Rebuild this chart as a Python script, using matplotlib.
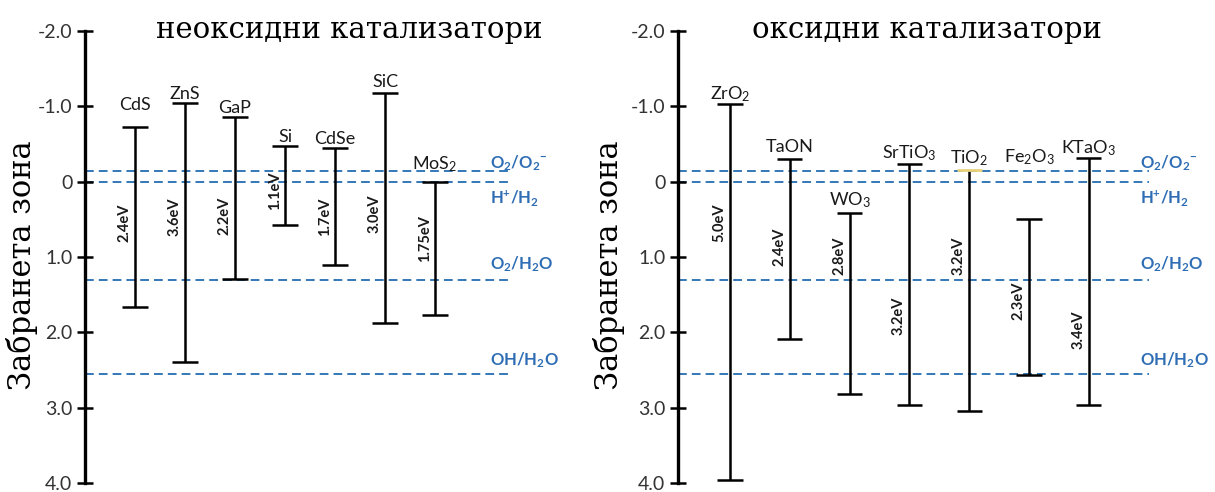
import matplotlib
matplotlib.use("Agg")
import matplotlib.pyplot as plt

plt.rcParams['axes.unicode_minus'] = False
plt.rcParams['mathtext.default'] = 'regular'

# ---------------- data ----------------
left_title = "неоксидни катализатори"
right_title = "оксидни катализатори"
ylabel = "Забранета зона"

left_names = ["CdS", "ZnS", "GaP", "Si", "CdSe", "SiC", "MoS$_2$"]
left_cb = [-0.72, -1.04, -0.86, -0.48, -0.45, -1.18, 0.01]
left_vb = [1.67, 2.39, 1.29, 0.57, 1.11, 1.87, 1.77]
left_gaps = ["2.4eV", "3.6eV", "2.2eV", "1.1eV", "1.7eV", "3.0eV", "1.75eV"]

right_names = ["ZrO$_2$", "TaON", "WO$_3$", "SrTiO$_3$", "TiO$_2$", "Fe$_2$O$_3$", "KTaO$_3$"]
right_cb = [-1.03, -0.30, 0.41, -0.24, -0.15, 0.50, -0.31]
right_vb = [3.96, 2.09, 2.82, 2.97, 3.05, 2.56, 2.97]
right_gaps = ["5.0eV", "2.4eV", "2.8eV", "3.2eV", "3.2eV", "2.3eV", "3.4eV"]

redox_names = ["O$_2$/O$_2{}^{-}$", "H$^{+}$/H$_2$", "O$_2$/H$_2$O", "OH/H$_2$O"]
redox_values = [-0.14, 0.0, 1.30, 2.55]

yticks = [-2.0, -1.0, 0.0, 1.0, 2.0, 3.0, 4.0]
ytick_labels = ["-2.0", "-1.0", "0", "1.0", "2.0", "3.0", "4.0"]

# ---------------- placement / style ----------------
left_name_y = [-0.95, -1.10, -0.91, -0.53, -0.50, -1.26, -0.17]
right_name_y = [-1.10, -0.40, 0.32, -0.31, -0.24, -0.26, -0.38]
left_gap_y = [0.54, 0.46, 0.45, 0.12, 0.46, 0.43, 0.75]
right_gap_y = [0.55, 0.86, 0.99, 1.78, 0.99, 1.58, 1.97]
redox_label_y = [-0.25, 0.22, 1.10, 2.37]
right_top_cap_colors = ["black", "black", "black", "black", "#e8d27a", "black", "black"]

SANS = "Lato"
SERIF = "DejaVu Serif"
BLUE = "#2e6db4"
DASH = "#3477b8"
INK = "#1a1a1a"

W, H = 1215, 492
TOP_PX, BOT_PX = 31, 483   # pixel rows of -2.0 and 4.0
fig = plt.figure(figsize=(W / 100, H / 100), dpi=100)

def px_axes(x0, x1):
    return fig.add_axes([x0 / W, (H - BOT_PX) / H, (x1 - x0) / W, (BOT_PX - TOP_PX) / H])

def panel(ax, names, cb, vb, gaps, name_y, gap_y, xlim, cap_w, dash_end,
          label_x, title, title_x, ylabel_x, top_cap_colors=None):
    n = len(names)
    xs = list(range(n))
    ax.set_xlim(*xlim)
    ax.set_ylim(4.0, -2.0)
    for s in ["top", "right", "bottom"]:
        ax.spines[s].set_visible(False)
    ax.spines["left"].set_linewidth(2.4)
    ax.spines["left"].set_color("black")
    ax.spines["left"].set_bounds(-2.0, 4.0)
    ax.set_xticks([])
    ax.set_yticks(yticks)
    ax.set_yticklabels(ytick_labels, fontfamily=SANS, fontsize=14, color="#333333")
    ax.tick_params(axis="y", direction="inout", length=12, width=1.8, pad=3, color="black")
    ax.patch.set_alpha(0)

    # redox dashed lines
    for v in redox_values:
        ax.hlines(v, xlim[0], dash_end, colors=DASH, linestyles=(0, (4.5, 2.6)),
                  linewidth=1.4, zorder=1)
    for name, ly in zip(redox_names, redox_label_y):
        ax.text(label_x, ly, name, color=BLUE, fontfamily=SANS, fontweight="bold",
                fontsize=12, ha="left", va="center")

    # band bars
    for i in xs:
        ax.vlines(xs[i], cb[i], vb[i], colors="black", linewidth=1.8, zorder=3)
        tc = top_cap_colors[i] if top_cap_colors else "black"
        ax.hlines(cb[i], xs[i] - cap_w / 2, xs[i] + cap_w / 2, colors=tc,
                  linewidth=1.8 if tc == "black" else 2.0, zorder=3)
        ax.hlines(vb[i], xs[i] - cap_w / 2, xs[i] + cap_w / 2, colors="black",
                  linewidth=1.8, zorder=3)
        ax.text(xs[i], name_y[i], names[i], ha="center", va="baseline",
                fontfamily=SANS, fontsize=13, color=INK)
        ax.annotate(gaps[i], (xs[i], gap_y[i]), xytext=(-2.5, 0),
                    textcoords="offset points", rotation=90, ha="right", va="center",
                    fontfamily=SANS, fontweight="bold", fontsize=10.5, color=INK)

    fig.text(title_x / W, 1 - 30 / H, title, ha="center", va="center",
             fontfamily=SERIF, fontsize=21, color="black")
    fig.text(ylabel_x / W, 1 - 265 / H, ylabel, ha="center", va="center",
             rotation=90, fontfamily=SERIF, fontsize=22, color="black")

# left panel: spine at 85px, bars start 135px, spacing 50px
axL = px_axes(85, 560)
panel(axL, left_names, left_cb, left_vb, left_gaps, left_name_y, left_gap_y,
      xlim=(-1.0, 8.5), cap_w=0.52, dash_end=7.52, label_x=7.1,
      title=left_title, title_x=349, ylabel_x=22)

# right panel: spine at 678px, bars start 730px, spacing 59.8px
axR = px_axes(678, 1215)
panel(axR, right_names, right_cb, right_vb, right_gaps, right_name_y, right_gap_y,
      xlim=(-0.87, 8.11), cap_w=0.42, dash_end=7.0, label_x=6.85,
      title=right_title, title_x=927, ylabel_x=609,
      top_cap_colors=right_top_cap_colors)

fig.savefig("out.png", dpi=100, facecolor="white")
